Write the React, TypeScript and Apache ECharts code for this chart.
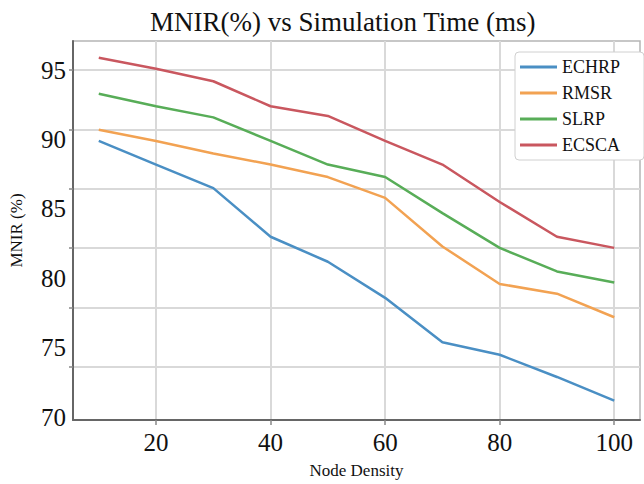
import React, { useEffect, useRef } from "react";
import * as echarts from "echarts";

const nodeDensity = [10, 20, 30, 40, 50, 60, 70, 80, 90, 100];
const echrp = [89.9, 88.2, 86.5, 83.0, 81.2, 78.6, 75.4, 74.5, 72.9, 71.2];
const rmsr = [90.7, 89.9, 89.0, 88.2, 87.3, 85.8, 82.3, 79.6, 78.9, 77.2];
const slrp = [93.3, 92.4, 91.6, 89.9, 88.2, 87.3, 84.7, 82.2, 80.5, 79.7];
const ecsca = [95.9, 95.1, 94.2, 92.4, 91.7, 89.9, 88.2, 85.5, 83.0, 82.2];
const seriesNames = ["ECHRP", "RMSR", "SLRP", "ECSCA"];
const seriesValues = [echrp, rmsr, slrp, ecsca];
const seriesColors = ["#4a8fc4", "#f2a252", "#58ad58", "#c9575f"];
const yTickLabels = [70, 75, 80, 85, 90, 95];
const yGridValues = [73.65, 77.92, 82.19, 86.46, 90.73, 95.0];
const xTickLabels = [20, 40, 60, 80, 100];

const FONT = "Liberation Serif";

export default function App() {
  const ref = useRef<HTMLDivElement>(null);
  useEffect(() => {
    if (!ref.current) return;
    const chart = echarts.init(ref.current, null, { renderer: "svg" });
    chart.setOption({
      animation: false,
      backgroundColor: "#ffffff",
      textStyle: { fontFamily: FONT },
      title: {
        text: "MNIR(%) vs Simulation Time (ms)",
        left: 145,
        top: 3,
        textStyle: { fontFamily: FONT, fontSize: 27, fontWeight: "normal", color: "#111" },
      },
      grid: {
        left: 71,
        right: 4,
        top: 41,
        bottom: 63,
        show: true,
        backgroundColor: "#ffffff",
        borderColor: "#b5b5b5",
        borderWidth: 1.5,
      },
      legend: {
        orient: "vertical",
        left: 515,
        top: 52,
        data: seriesNames,
        icon: "rect",
        itemWidth: 37,
        itemHeight: 3,
        itemGap: 8,
        padding: [6, 24, 6, 5],
        backgroundColor: "#ffffff",
        borderColor: "#d0d0d0",
        borderWidth: 1,
        borderRadius: 4,
        textStyle: { fontFamily: FONT, fontSize: 18, color: "#111" },
      },
      xAxis: {
        type: "value",
        min: 5.5,
        max: 104.5,
        name: "Node Density",
        nameLocation: "middle",
        nameGap: 42,
        nameTextStyle: { fontFamily: FONT, fontSize: 17, color: "#111" },
        axisLine: { show: true, onZero: false, lineStyle: { color: "#666", width: 2 } },
        axisTick: { show: true, length: 5, customValues: xTickLabels, lineStyle: { color: "#888", width: 1.5 } },
        axisLabel: {
          customValues: xTickLabels,
          fontFamily: FONT,
          fontSize: 25,
          color: "#111",
          margin: 10,
        },
        splitLine: { show: true, lineStyle: { color: "#d9d9d9", width: 2 } },
      },
      yAxis: {
        type: "value",
        min: 69.8,
        max: 97.1,
        name: "MNIR (%)",
        nameLocation: "middle",
        nameGap: 48,
        nameTextStyle: { fontFamily: FONT, fontSize: 17, color: "#111" },
        axisLine: { show: true, onZero: false, lineStyle: { color: "#666", width: 2 } },
        axisTick: { show: true, length: 4, customValues: yGridValues, lineStyle: { color: "#888", width: 1.5 } },
        axisLabel: {
          customValues: yTickLabels,
          fontFamily: FONT,
          fontSize: 25,
          color: "#111",
          margin: 7,
        },
        splitLine: { show: true, lineStyle: { color: "#d9d9d9", width: 2 } },
      },
      series: seriesNames.map((name, i) => ({
        name,
        type: "line",
        symbol: "none",
        data: nodeDensity.map((x, j) => [x, seriesValues[i][j]]),
        lineStyle: { color: seriesColors[i], width: 2.5 },
        itemStyle: { color: seriesColors[i] },
      })),
    });
    return () => chart.dispose();
  }, []);
  return (
    <div
      ref={ref}
      style={{ position: "fixed", left: 0, top: 0, width: 644, height: 484 }}
    />
  );
}
